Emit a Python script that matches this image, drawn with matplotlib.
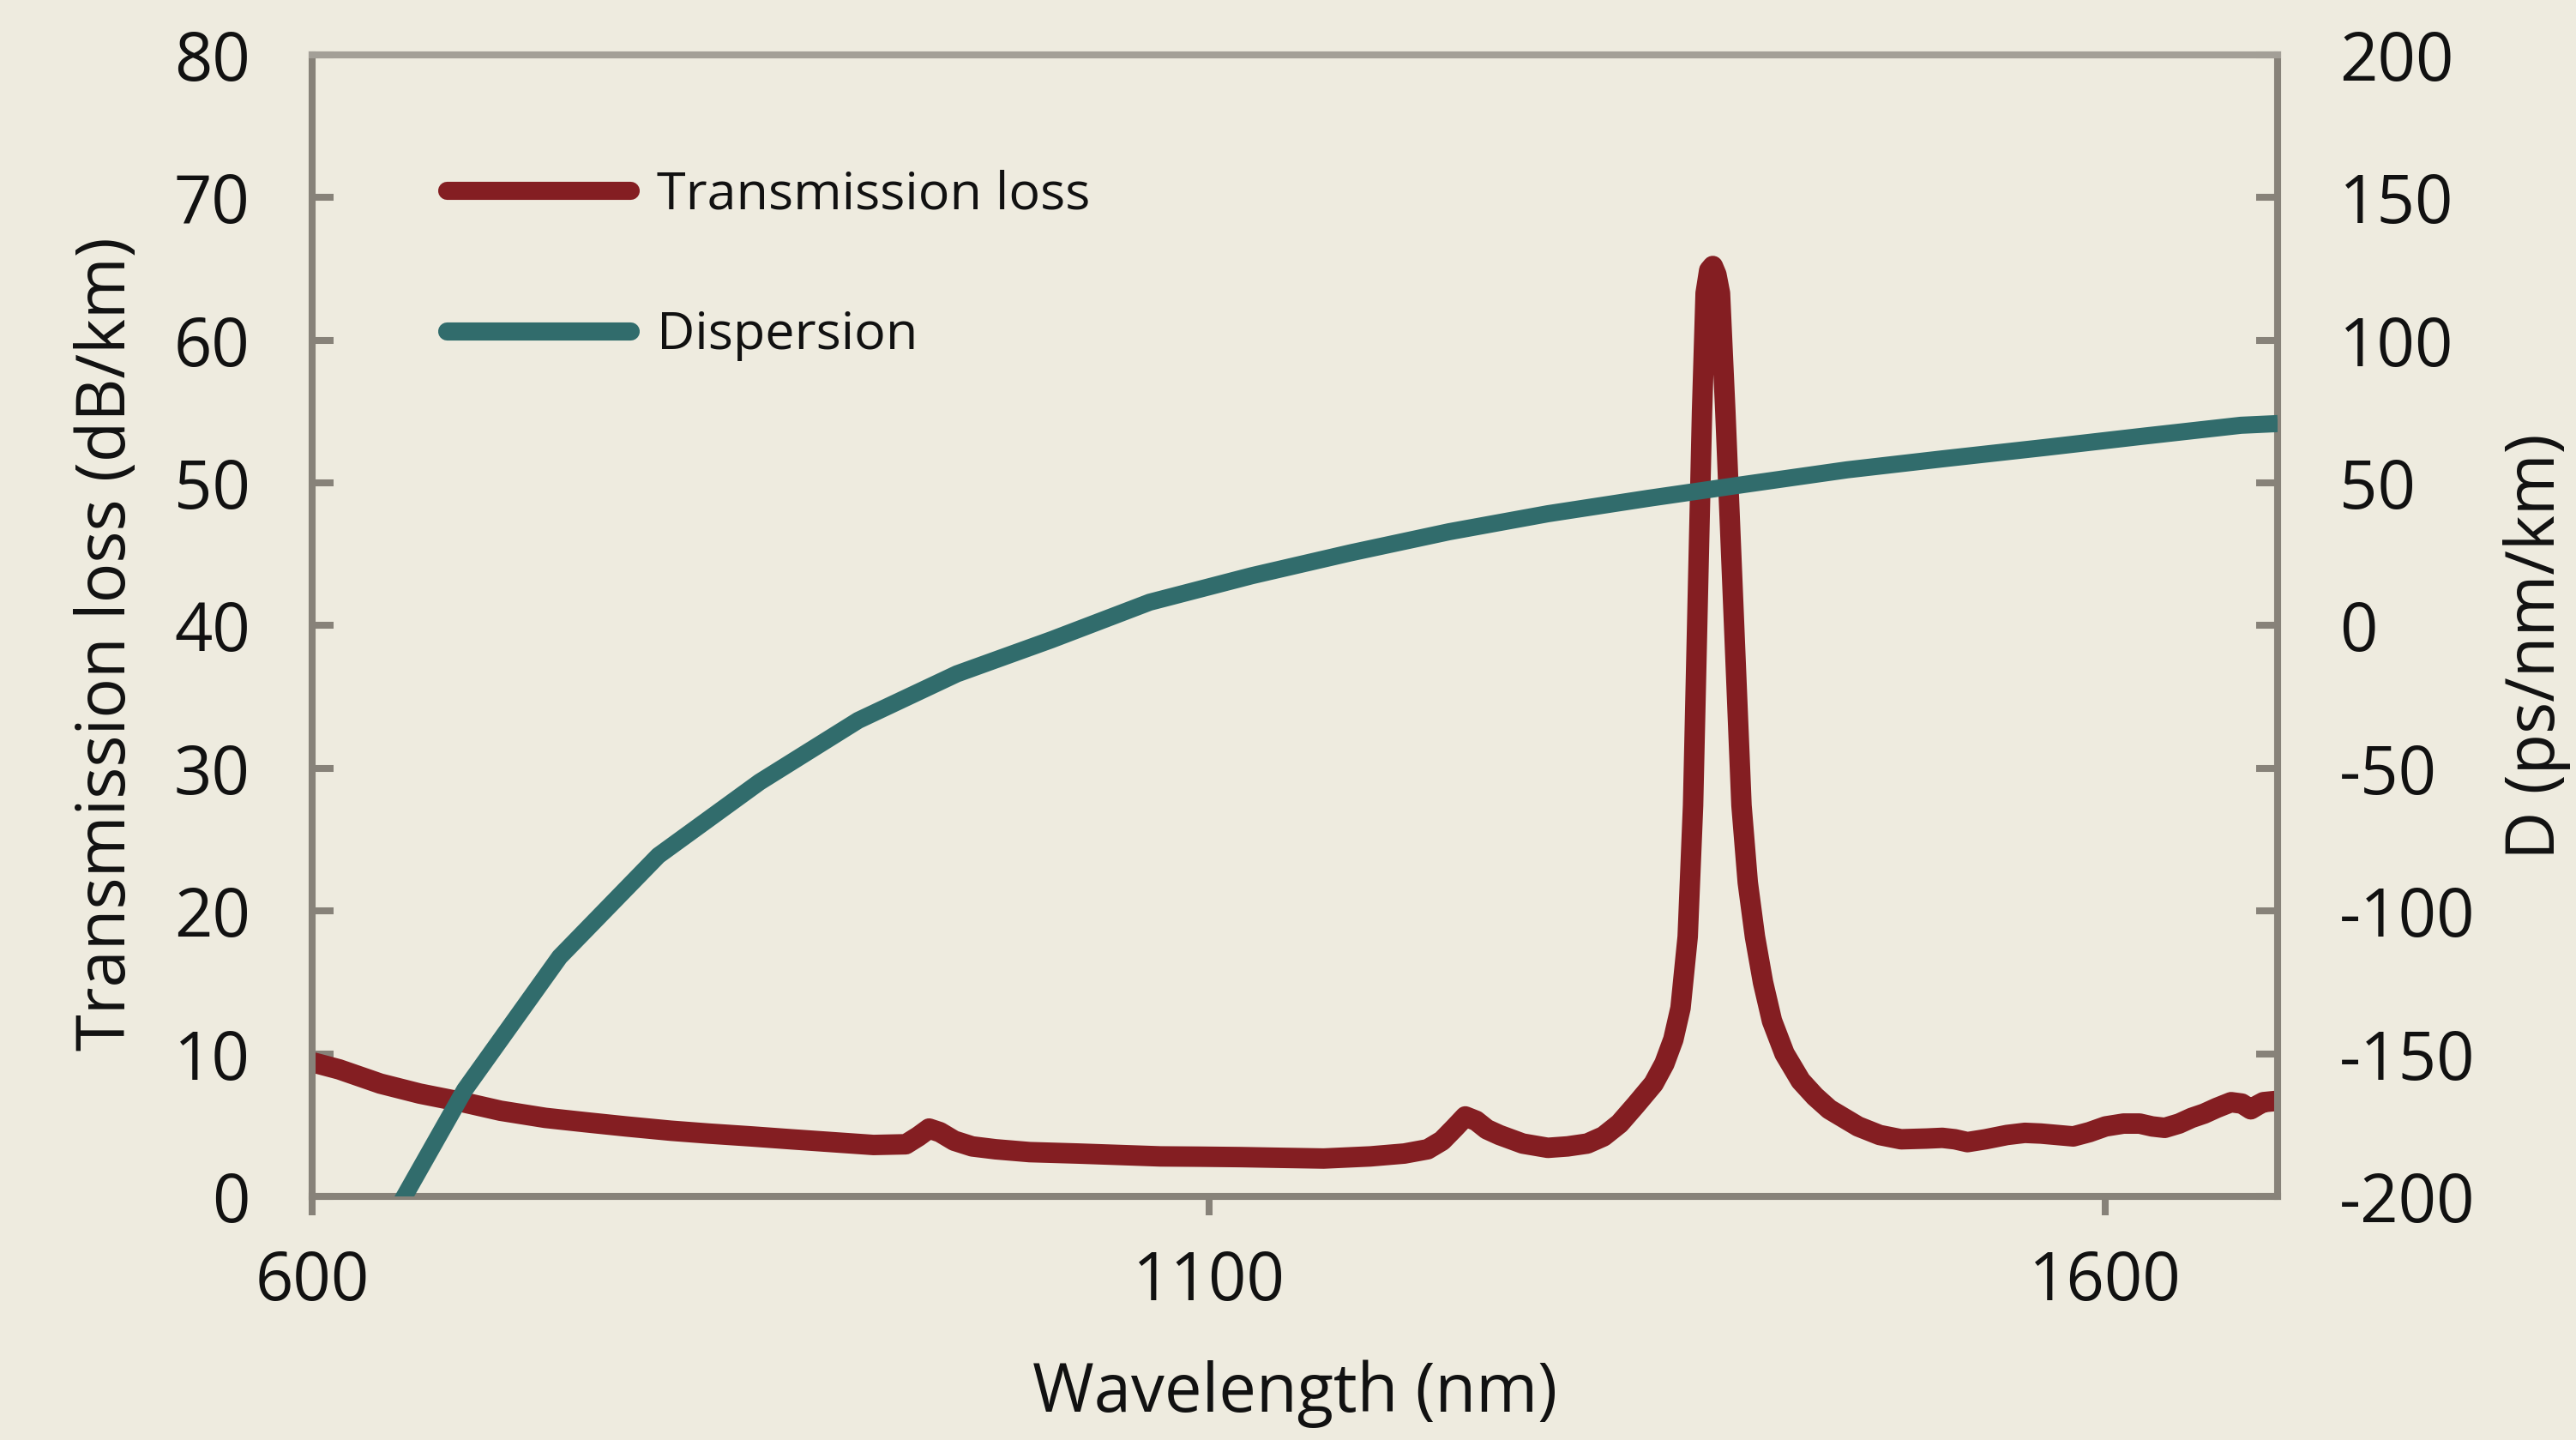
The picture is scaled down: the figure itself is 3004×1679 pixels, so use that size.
import matplotlib
matplotlib.use("Agg")
import matplotlib.pyplot as plt
from matplotlib.lines import Line2D

# ---------------- data ----------------
loss_wl = [600, 615, 638, 660, 684, 705, 730, 752, 775, 800, 821, 845, 867, 890, 913,
           931, 938, 944, 950, 958, 968, 981, 1000, 1027, 1050, 1073, 1095, 1118, 1140,
           1164, 1190, 1209, 1222, 1230, 1237, 1243, 1249, 1255, 1262, 1275, 1289, 1300,
           1311, 1320, 1329, 1338, 1348, 1354, 1359, 1363, 1367, 1370, 1372.5, 1375, 1377,
           1379, 1381, 1383, 1385, 1388, 1392.5, 1397, 1400.5, 1404.5, 1409, 1414, 1421,
           1430, 1438, 1446, 1454, 1462, 1474, 1486, 1500, 1509, 1516, 1523, 1533, 1545,
           1555, 1564, 1573, 1582, 1591, 1600, 1610, 1619, 1626, 1633, 1641, 1648, 1655,
           1662, 1670, 1676, 1681, 1685, 1688, 1696]
loss_db = [9.4, 8.9, 7.9, 7.2, 6.6, 6.0, 5.5, 5.2, 4.9, 4.6, 4.4, 4.2, 4.0, 3.8, 3.6,
           3.65, 4.2, 4.75, 4.5, 3.9, 3.5, 3.3, 3.1, 3.0, 2.9, 2.8, 2.78, 2.75, 2.7,
           2.65, 2.8, 3.0, 3.3, 3.9, 4.8, 5.6, 5.3, 4.7, 4.3, 3.7, 3.4, 3.5,
           3.7, 4.2, 5.1, 6.4, 7.9, 9.3, 11.0, 13.2, 18.2, 27.4, 41.2, 55.0, 63.3,
           64.9, 65.2, 64.6, 63.3, 55.0, 41.2, 27.4, 22.0, 18.2, 15.0, 12.3, 10.0,
           8.1, 7.0, 6.1, 5.5, 4.9, 4.3, 4.0, 4.05, 4.1, 4.0, 3.8, 4.0, 4.3,
           4.45, 4.4, 4.3, 4.2, 4.5, 4.9, 5.1, 5.1, 4.9, 4.8, 5.1, 5.5, 5.8,
           6.2, 6.6, 6.5, 6.1, 6.4, 6.6, 6.7]

disp_wl = [646, 685, 738, 793, 849.5, 904.5, 959.5, 1012, 1067, 1124, 1179, 1234, 1289,
           1345, 1400, 1456, 1510, 1566, 1620, 1675.5, 1696]
disp_d = [-206, -162.7, -116.1, -80.6, -54.8, -33.2, -16.9, -5.0, 8.2, 17.5, 25.5, 32.9,
          39.2, 44.6, 49.6, 54.6, 58.5, 62.4, 66.3, 70.2, 70.8]

x_ticks = [600, 1100, 1600]
left_ticks = [0, 10, 20, 30, 40, 50, 60, 70, 80]
right_ticks = [-200, -150, -100, -50, 0, 50, 100, 150, 200]

# ---------------- style ----------------
BG = "#EEEBDF"
SPINE = "#878279"
SPINE_TOP = "#A39F97"
RED = "#841E22"
TEAL = "#316C6C"
TXT = "#111111"

plt.rcParams["font.family"] = ["Open Sans", "DejaVu Sans"]
plt.rcParams["axes.unicode_minus"] = False

FS = 28
LFS = 22
fig = plt.figure(figsize=(15.02, 8.395), dpi=200, facecolor=BG)
ax = fig.add_axes([0.1212, 0.1692, 0.8842 - 0.1212, 0.9619 - 0.1692])
ax.set_facecolor(BG)
ax2 = ax.twinx()

ax.plot(loss_wl, loss_db, color=RED, lw=8.6, solid_capstyle="butt",
        solid_joinstyle="round", label="Transmission loss", zorder=3)
ax2.plot(disp_wl, disp_d, color=TEAL, lw=7.2, solid_capstyle="butt",
         solid_joinstyle="round", label="Dispersion", zorder=3)

ax.set_xlim(600, 1696)
ax.set_ylim(0, 80)
ax2.set_ylim(-200, 200)

ax.set_xticks(x_ticks)
ax.set_xticklabels([str(v) for v in x_ticks])
ax.set_yticks(left_ticks)
ax.set_yticklabels([str(v) for v in left_ticks])
ax2.set_yticks(right_ticks)
ax2.set_yticklabels([str(v) for v in right_ticks])

for a in (ax, ax2):
    for s in a.spines.values():
        s.set_color(SPINE)
        s.set_linewidth(2.9)
    a.spines["top"].set_color(SPINE_TOP)

ax.tick_params(axis="x", direction="out", length=8, width=2.9, color=SPINE,
               labelsize=FS, labelcolor=TXT, pad=14)
ax.tick_params(axis="y", direction="in", length=9, width=2.9, color=SPINE,
               labelsize=FS, labelcolor=TXT, pad=26)
ax2.tick_params(axis="y", direction="in", length=9, width=2.9, color=SPINE,
                labelsize=FS, labelcolor=TXT, pad=26)

ax.set_xlabel("Wavelength (nm)", fontsize=FS, color=TXT, labelpad=18)
ax.set_ylabel("Transmission loss (dB/km)", fontsize=FS, color=TXT)
ax2.set_ylabel("D (ps/nm/km)", fontsize=FS, color=TXT, rotation=90)
for lab in (ax.yaxis.label, ax2.yaxis.label):
    lab.set_ha("center")
    lab.set_va("center")
ax.yaxis.set_label_coords(-0.104, 0.484)
ax2.yaxis.set_label_coords(1.132, 0.482)

handles = [Line2D([], [], color=RED, lw=7.6, solid_capstyle="round"),
           Line2D([], [], color=TEAL, lw=7.6, solid_capstyle="round")]
leg = ax2.legend(handles, ["Transmission loss", "Dispersion"], loc="upper left",
                 bbox_to_anchor=(0.058, 0.918), frameon=False, fontsize=LFS,
                 handlelength=3.5, handletextpad=0.5, labelspacing=1.7,
                 borderaxespad=0)
for t in leg.get_texts():
    t.set_color(TXT)

fig.savefig("out.png", dpi=200, facecolor=BG)
